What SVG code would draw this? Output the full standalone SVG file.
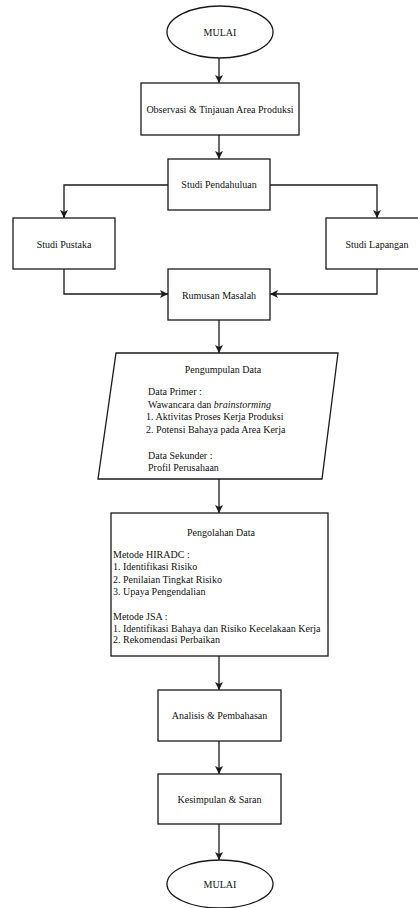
<svg xmlns="http://www.w3.org/2000/svg" width="418" height="908" viewBox="0 0 418 908">
<style>
.s{fill:#fff;stroke:#1a1a1a;stroke-width:1.3}
.c{fill:none;stroke:#1a1a1a;stroke-width:1.3}
text{font-family:"Liberation Serif","Times New Roman",serif;font-size:10px;fill:#111}
.m{text-anchor:middle}
</style>
<defs>
<marker id="a" markerUnits="userSpaceOnUse" markerWidth="10" markerHeight="10" refX="8" refY="4" orient="auto">
<path d="M0,0 L8,4 L0,8 L2,4 z" fill="#1a1a1a"/>
</marker>
</defs>
<rect width="418" height="908" fill="#fff"/>
<g id="connectors">
<path class="c" d="M219,58 V83" marker-end="url(#a)"/>
<path class="c" d="M219,135 V159" marker-end="url(#a)"/>
<path class="c" d="M168,185 H64 V218" marker-end="url(#a)"/>
<path class="c" d="M270,185 H377 V218" marker-end="url(#a)"/>
<path class="c" d="M64,269 V294 H168" marker-end="url(#a)"/>
<path class="c" d="M377,269 V294 H270" marker-end="url(#a)"/>
<path class="c" d="M219,320 V353" marker-end="url(#a)"/>
<path class="c" d="M219,479 V513" marker-end="url(#a)"/>
<path class="c" d="M219,656 V690" marker-end="url(#a)"/>
<path class="c" d="M219,741 V774" marker-end="url(#a)"/>
<path class="c" d="M219,824 V860" marker-end="url(#a)"/>
</g>
<g id="mulai-start">
<ellipse class="s" cx="220" cy="32" rx="53" ry="26"/>
<text class="m" x="220" y="35.5">MULAI</text>
</g>
<g id="observasi">
<rect class="s" x="141" y="83" width="158" height="52"/>
<text class="m" x="220" y="112.5">Observasi &amp; Tinjauan Area Produksi</text>
</g>
<g id="studi-pendahuluan">
<rect class="s" x="168" y="159" width="102" height="51"/>
<text class="m" x="219" y="188">Studi Pendahuluan</text>
</g>
<g id="studi-pustaka">
<rect class="s" x="13" y="218" width="102" height="51"/>
<text class="m" x="64" y="247.5">Studi Pustaka</text>
</g>
<g id="studi-lapangan">
<rect class="s" x="326" y="218" width="102" height="51"/>
<text class="m" x="377" y="247.5">Studi Lapangan</text>
</g>
<g id="rumusan-masalah">
<rect class="s" x="168" y="269" width="102" height="51"/>
<text class="m" x="219" y="298.5">Rumusan Masalah</text>
</g>
<g id="pengumpulan-data">
<polygon class="s" points="116,353 338,353 322,479 98,479"/>
<text class="m" x="223" y="372.5">Pengumpulan Data</text>
<text x="148" y="394.5">Data Primer :</text>
<text x="148" y="407.5">Wawancara dan <tspan font-style="italic">brainstorming</tspan></text>
<text x="146" y="420">1. Aktivitas Proses Kerja Produksi</text>
<text x="146" y="432.5">2. Potensi Bahaya pada Area Kerja</text>
<text x="148" y="458.5">Data Sekunder :</text>
<text x="148" y="471">Profil Perusahaan</text>
</g>
<g id="pengolahan-data">
<rect class="s" x="111" y="513" width="217" height="143"/>
<text class="m" x="221" y="535.5">Pengolahan Data</text>
<text x="113" y="557.5">Metode HIRADC :</text>
<text x="113" y="570">1. Identifikasi Risiko</text>
<text x="113" y="582.5">2. Penilaian Tingkat Risiko</text>
<text x="113" y="595">3. Upaya Pengendalian</text>
<text x="113" y="619.5">Metode JSA :</text>
<text x="113" y="631.5">1. Identifikasi Bahaya dan Risiko Kecelakaan Kerja</text>
<text x="113" y="643">2. Rekomendasi Perbaikan</text>
</g>
<g id="analisis">
<rect class="s" x="158" y="690" width="123" height="51"/>
<text class="m" x="219.5" y="718.5">Analisis &amp; Pembahasan</text>
</g>
<g id="kesimpulan">
<rect class="s" x="158" y="774" width="123" height="50"/>
<text class="m" x="219.5" y="802.5">Kesimpulan &amp; Saran</text>
</g>
<g id="mulai-end">
<ellipse class="s" cx="220" cy="884" rx="53" ry="24"/>
<text class="m" x="220" y="888">MULAI</text>
</g>
</svg>
